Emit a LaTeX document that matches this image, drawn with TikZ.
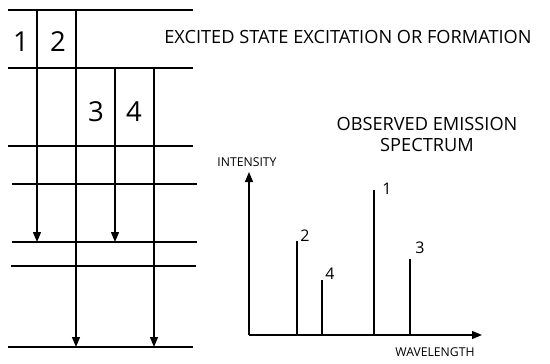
\documentclass[tikz,border=0pt]{standalone}
\usepackage{fontspec}
\setmainfont{Open Sans}
\usetikzlibrary{arrows.meta}
\begin{document}
\begin{tikzpicture}[x=1pt,y=-1pt,
  lvl/.style={line width=1.3pt},
  tr/.style={line width=1.3pt,-{Triangle[length=10pt,width=8pt]}},
  big/.style={font=\fontsize{27.5}{29}\selectfont,inner sep=0pt},
  lbl/.style={font=\fontsize{16}{18}\selectfont,inner sep=0pt},
  ttl/.style={font=\fontsize{18.2}{21}\selectfont,inner sep=0pt,align=center},
  ax/.style={font=\fontsize{12.2}{14}\selectfont,inner sep=0pt}]
\useasboundingbox (0,0) rectangle (550,364);
% levels
\draw[lvl] (8,10) -- (193,10);
\draw[lvl] (8,68) -- (193,68);
\draw[lvl] (8,146) -- (193,146);
\draw[lvl] (12,184) -- (197,184);
\draw[lvl] (12,242) -- (197,242);
\draw[lvl] (11,266) -- (196,266);
\draw[lvl] (8,347) -- (193,347);
% transitions
\coordinate (a1) at (37,10);  \coordinate (b1) at (37,242);
\coordinate (a2) at (76,10);  \coordinate (b2) at (76,347);
\coordinate (a3) at (115,68); \coordinate (b3) at (115,242);
\coordinate (a4) at (154,68); \coordinate (b4) at (154,347);
\draw[tr] (a1) -- (b1);
\draw[tr] (a2) -- (b2);
\draw[tr] (a3) -- (b3);
\draw[tr] (a4) -- (b4);
\node[big] (n1) at (21,42) {1};
\node[big] (n2) at (58,42) {2};
\node[big] (n3) at (96,112) {3};
\node[big] (n4) at (134,112) {4};
% titles
\node[ttl] (t1) at (348,37) {EXCITED STATE EXCITATION OR FORMATION};
\node[ttl] (t2) at (427,134) {OBSERVED EMISSION\\SPECTRUM};
% spectrum
\coordinate (o) at (249,335);
\coordinate (yt) at (249,172);
\coordinate (xt) at (482,335);
\draw[tr] (o) -- (yt);
\draw[tr] (o) -- (xt);
\node[ax] (int) at (247,162) {INTENSITY};
\node[ax] (wav) at (435,352) {WAVELENGTH};
\coordinate (p2b) at (297,335); \coordinate (p2t) at (297,241);
\coordinate (p4b) at (322,335); \coordinate (p4t) at (322,280);
\coordinate (p1b) at (374,335); \coordinate (p1t) at (374,190);
\coordinate (p3b) at (410,335); \coordinate (p3t) at (410,259);
\draw[lvl] (p2b) -- (p2t);
\draw[lvl] (p4b) -- (p4t);
\draw[lvl] (p1b) -- (p1t);
\draw[lvl] (p3b) -- (p3t);
\node[lbl] (l2) at (305,236) {2};
\node[lbl] (l4) at (330,274) {4};
\node[lbl] (l1) at (387,189) {1};
\node[lbl] (l3) at (420,248) {3};
\end{tikzpicture}
\end{document}
